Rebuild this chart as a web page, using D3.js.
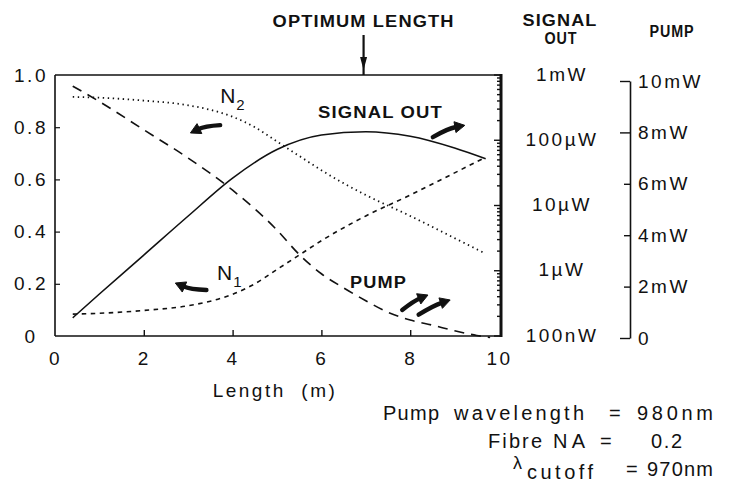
<!DOCTYPE html>
<html>
<head>
<meta charset="utf-8">
<script src="https://cdn.jsdelivr.net/npm/d3@7"></script>
<style>
  html, body { margin: 0; padding: 0; background: #fff; }
  svg { display: block; }
  text { font-family: "Liberation Sans", Arial, Helvetica, sans-serif; fill: #111; }
  .tick-label { font-size: 19px; letter-spacing: 2.5px; }
  .note { font-size: 20px; }
  .bold { font-weight: bold; font-size: 16px; letter-spacing: 1px; }
</style>
</head>
<body>
<svg id="chart" width="733" height="495"></svg>
<script>
// Fibre length along the x axis (m)
const lengthTicks = [0, 2, 4, 6, 8, 10];
const fractionTicks = [0, 0.2, 0.4, 0.6, 0.8, 1.0];
const fractionTickLabels = ["0", "0.2", "0.4", "0.6", "0.8", "1.0"];
const signalTicks = [0.1, 1, 10, 100, 1000];            // µW
const signalTickLabels = ["100nW", "1µW", "10µW", "100µW", "1mW"];
const pumpTicks = [0, 2, 4, 6, 8, 10];                   // mW
const pumpTickLabels = ["0", "2mW", "4mW", "6mW", "8mW", "10mW"];

// Signal output power (µW) versus length
const signalLength = [0.4, 1, 2, 3, 4, 5, 6, 7, 8, 9, 9.7];
const signalPower  = [0.19, 0.44, 1.74, 6.9, 26.3, 72, 120, 135, 115, 76, 52];

// Remaining pump power (mW) versus length
const pumpLength = [0.4, 1, 2, 3, 4, 5, 5.5, 6, 6.5, 7, 7.5, 8, 8.5, 9, 9.5, 9.8];
const pumpPower  = [9.8, 9.2, 8.1, 7.0, 5.75, 4.2, 3.25, 2.5, 1.95, 1.45, 1.0, 0.7, 0.5, 0.28, 0.1, 0.02];

// Fractional populations of the upper (N2) and lower (N1) levels
const popLength = [0.4, 1, 2, 3, 4, 4.5, 5, 5.5, 6, 7, 8, 9, 9.7];
const n2 = [0.916, 0.913, 0.902, 0.884, 0.84, 0.80, 0.745, 0.69, 0.635, 0.54, 0.46, 0.375, 0.315];
const n1 = [0.084, 0.087, 0.098, 0.116, 0.16, 0.20, 0.255, 0.31, 0.365, 0.46, 0.54, 0.625, 0.685];

const optimumLength = 6.95;

const svg = d3.select("#chart");

const x = d3.scaleLinear().domain([0, 10]).range([55, 499]);
const y = d3.scaleLinear().domain([0, 1]).range([336, 75]);
const ySignal = d3.scaleLog().domain([0.1, 1000]).range([336, 75]);
const yPump = d3.scaleLinear().domain([0, 10]).range([338, 81]);

const frameRight = 501;
const pumpAxisX = 630;

// Plot frame
const frame = svg.append("g").attr("fill", "none").attr("stroke", "#111");
frame.append("line").attr("x1", x(0)).attr("x2", frameRight).attr("y1", y(1)).attr("y2", y(1)).attr("stroke-width", 1.6);
frame.append("line").attr("x1", x(0)).attr("x2", frameRight).attr("y1", y(0)).attr("y2", y(0)).attr("stroke-width", 1.6);
frame.append("line").attr("x1", x(0)).attr("x2", x(0)).attr("y1", y(1)).attr("y2", y(0)).attr("stroke-width", 1.6);
frame.append("line").attr("x1", frameRight).attr("x2", frameRight).attr("y1", y(1) - 1).attr("y2", y(0) + 1).attr("stroke-width", 3);

// Bottom axis: inward ticks, labels below
const xAxis = d3.axisBottom(x).tickValues(lengthTicks).tickSizeInner(-6).tickSizeOuter(0).tickPadding(12).tickFormat(d3.format("d"));
const gx = svg.append("g").attr("transform", `translate(0,${y(0)})`).call(xAxis);
gx.select(".domain").remove();
gx.selectAll(".tick line").attr("stroke", "#111").attr("stroke-width", 1.4)
  .filter(d => d === 0 || d === 10).remove();
gx.selectAll(".tick text").attr("class", "tick-label").attr("font-size", null).attr("font-family", null)
  .attr("dy", "0.9em").attr("fill", "#111");

// Left axis: inward ticks, labels centred in a column
const yAxis = d3.axisLeft(y).tickValues(fractionTicks).tickSizeInner(-5).tickSizeOuter(0)
  .tickFormat((d, i) => fractionTickLabels[i]);
const gy = svg.append("g").attr("transform", `translate(${x(0)},0)`).call(yAxis);
gy.select(".domain").remove();
gy.selectAll(".tick line").attr("stroke", "#111").attr("stroke-width", 1.2)
  .filter(d => d === 0 || d === 1).remove();
gy.selectAll(".tick text").attr("class", "tick-label").attr("font-size", null).attr("font-family", null)
  .attr("text-anchor", "middle").attr("x", 31 - x(0)).attr("fill", "#111");

// Logarithmic minor ticks along the right edge of the frame (signal scale)
const logTicks = ySignal.ticks();
svg.append("g").selectAll("line").data(logTicks).join("line")
  .attr("x1", frameRight)
  .attr("x2", d => frameRight - (signalTicks.includes(d) ? 7 : 4))
  .attr("y1", d => ySignal(d)).attr("y2", d => ySignal(d))
  .attr("stroke", "#111").attr("stroke-width", 1.4);

// Signal scale labels (no separate axis line)
svg.append("g").selectAll("text").data(signalTicks).join("text")
  .attr("class", "tick-label")
  .attr("x", 562).attr("y", d => ySignal(d)).attr("dy", "0.3em")
  .attr("text-anchor", "middle")
  .text((d, i) => signalTickLabels[i]);

// Pump axis on the far right
const pumpAxis = d3.axisLeft(yPump).tickValues(pumpTicks).tickSizeInner(9).tickSizeOuter(0)
  .tickFormat((d, i) => pumpTickLabels[i]);
const gp = svg.append("g").attr("transform", `translate(${pumpAxisX},0)`).call(pumpAxis);
gp.select(".domain").attr("stroke", "#111").attr("stroke-width", 1.6);
gp.selectAll(".tick line").attr("stroke", "#111").attr("stroke-width", 1.4)
  .attr("x2", d => (d === 0 || d === 10 || d === 8) ? -10 : -6);
gp.selectAll(".tick text").attr("class", "tick-label").attr("font-size", null).attr("font-family", null)
  .attr("text-anchor", "start").attr("x", 8).attr("fill", "#111");

// Curves
const line = (xs, ys, yScale) => d3.line().curve(d3.curveMonotoneX)
  .x((d, i) => x(xs[i])).y((d, i) => yScale(ys[i]))(xs);

const curves = svg.append("g").attr("fill", "none").attr("stroke", "#111");
curves.append("path").attr("d", line(signalLength, signalPower, ySignal)).attr("stroke-width", 1.6);
curves.append("path").attr("d", line(pumpLength, pumpPower, yPump)).attr("stroke-width", 1.6)
  .attr("stroke-dasharray", "10 7");
curves.append("path").attr("d", line(popLength, n2, y)).attr("stroke-width", 1.8)
  .attr("stroke-dasharray", "1.4 3.6");
curves.append("path").attr("d", line(popLength, n1, y)).attr("stroke-width", 1.6)
  .attr("stroke-dasharray", "4.5 4.5");

// Curved pointer arrows tying each curve to its scale
function arrow(x0, y0, x1, y1, bend) {
  const p0 = [x(x0), y(y0)], p1 = [x(x1), y(y1)];
  const dx = p1[0] - p0[0], dy = p1[1] - p0[1];
  const len = Math.hypot(dx, dy);
  const nx = -dy / len, ny = dx / len;
  const c = [(p0[0] + p1[0]) / 2 + nx * bend, (p0[1] + p1[1]) / 2 + ny * bend];
  const hx = p1[0] - c[0], hy = p1[1] - c[1];
  const hl = Math.hypot(hx, hy);
  const ux = hx / hl, uy = hy / hl;
  const headLen = 10, headW = 5.5;
  const base = [p1[0] - ux * headLen, p1[1] - uy * headLen];
  const g = svg.append("g").attr("fill", "#111").attr("stroke", "#111");
  g.append("path")
    .attr("d", `M${p0[0]},${p0[1]} Q${c[0]},${c[1]} ${base[0] + ux},${base[1] + uy}`)
    .attr("fill", "none").attr("stroke-width", 4.4).attr("stroke-linecap", "round");
  g.append("path")
    .attr("d", `M${p1[0]},${p1[1]} L${base[0] - uy * headW},${base[1] + ux * headW} L${base[0] + uy * headW},${base[1] - ux * headW}Z`)
    .attr("stroke-width", 1);
}
arrow(3.72, 0.808, 3.05, 0.778, 3);   // N2 -> left scale
arrow(3.41, 0.176, 2.71, 0.203, -3);  // N1 -> left scale
arrow(8.51, 0.762, 9.23, 0.807, -3);  // signal -> signal scale
arrow(7.82, 0.10, 8.40, 0.157, -2);   // pump -> pump scale
arrow(8.19, 0.082, 8.90, 0.138, -2);

// Curve labels
const n2Label = svg.append("text").attr("x", x(3.72)).attr("y", y(0.893)).attr("font-size", 21);
n2Label.append("tspan").text("N");
n2Label.append("tspan").attr("font-size", 15).attr("dy", 7).attr("dx", 1).text("2");
const n1Label = svg.append("text").attr("x", x(3.65)).attr("y", y(0.215)).attr("font-size", 21);
n1Label.append("tspan").text("N");
n1Label.append("tspan").attr("font-size", 15).attr("dy", 7).attr("dx", 1).text("1");

svg.append("text").attr("class", "bold").attr("x", 318).attr("y", 118)
  .attr("textLength", 125).attr("lengthAdjust", "spacingAndGlyphs").text("SIGNAL OUT");
svg.append("text").attr("class", "bold").attr("x", 350).attr("y", 288)
  .attr("textLength", 57).attr("lengthAdjust", "spacingAndGlyphs").text("PUMP");

// Optimum length marker
svg.append("text").attr("class", "bold").attr("x", x(optimumLength)).attr("y", 27)
  .attr("font-size", 17)
  .attr("text-anchor", "middle").attr("textLength", 182).attr("lengthAdjust", "spacingAndGlyphs")
  .text("OPTIMUM LENGTH");
svg.append("line").attr("x1", x(optimumLength)).attr("x2", x(optimumLength))
  .attr("y1", 35).attr("y2", y(1)).attr("stroke", "#111").attr("stroke-width", 2.2);
svg.append("path")
  .attr("d", `M${x(optimumLength) - 3.5},${57} L${x(optimumLength) + 3.5},${57} L${x(optimumLength)},${70}Z`)
  .attr("fill", "#111");

// Right-hand scale headings
svg.append("text").attr("class", "bold").attr("x", 560).attr("y", 26).attr("text-anchor", "middle")
  .attr("textLength", 75).attr("lengthAdjust", "spacingAndGlyphs").text("SIGNAL");
svg.append("text").attr("class", "bold").attr("x", 561).attr("y", 44).attr("text-anchor", "middle")
  .attr("textLength", 33).attr("lengthAdjust", "spacingAndGlyphs").text("OUT");
svg.append("text").attr("class", "bold").attr("x", 672).attr("y", 37).attr("text-anchor", "middle")
  .attr("textLength", 45).attr("lengthAdjust", "spacingAndGlyphs").text("PUMP");

// Axis title
svg.append("text").attr("class", "tick-label").attr("x", 275).attr("y", 397).attr("text-anchor", "middle")
  .attr("xml:space", "preserve").text("Length  (m)");

// Fibre parameters, set word by word
const words = [
  { t: "Pump",       x: 383, w: 56,  y: 420 },
  { t: "wavelength", x: 454, w: 130, y: 420 },
  { t: "=",          x: 609, w: 12,  y: 420 },
  { t: "980nm",      x: 637, w: 76,  y: 420 },
  { t: "Fibre",      x: 488, w: 54,  y: 448 },
  { t: "NA",         x: 553, w: 32,  y: 448 },
  { t: "=",          x: 600, w: 12,  y: 448 },
  { t: "0.2",        x: 651, w: 31,  y: 448 },
  { t: "cutoff",     x: 527, w: 66,  y: 479 },
  { t: "=",          x: 626, w: 12,  y: 476 },
  { t: "970nm",      x: 647, w: 66,  y: 476 }
];
const notes = svg.append("g").attr("class", "note");
notes.selectAll("text").data(words).join("text")
  .attr("x", d => d.x).attr("y", d => d.y)
  .attr("textLength", d => d.w).attr("lengthAdjust", "spacing")
  .text(d => d.t);
notes.append("text").attr("x", 513).attr("y", 469).attr("font-size", 18).text("λ");
</script>
</body>
</html>
